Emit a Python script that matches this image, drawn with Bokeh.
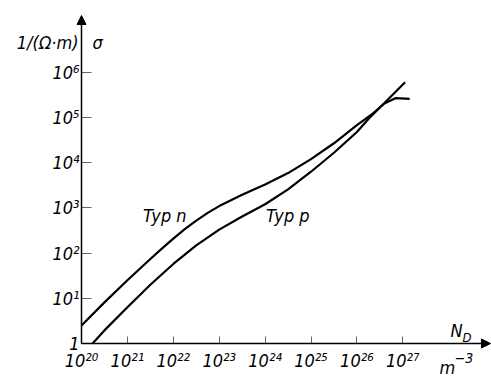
from bokeh.plotting import figure
from bokeh.models import Range1d, FixedTicker, Arrow, NormalHead, Label, LinearAxis
from bokeh.embed import file_html
from bokeh.resources import INLINE

# Data as decimal exponents (log10 of N_D in m^-3, log10 of sigma in 1/(Ohm*m))
n_logN = [20.0, 20.5, 21.0, 21.5, 21.75, 22.0, 22.25, 22.5, 22.75, 23.0, 23.5, 24.0, 24.5, 25.0, 25.5, 26.0, 26.3, 26.6, 26.85, 27.15]
n_logS = [0.40, 0.91, 1.40, 1.87, 2.10, 2.32, 2.53, 2.72, 2.89, 3.04, 3.29, 3.52, 3.77, 4.08, 4.43, 4.83, 5.05, 5.31, 5.43, 5.41]

p_logN = [20.24, 20.5, 21.0, 21.5, 22.0, 22.5, 23.0, 23.5, 24.0, 24.5, 25.0, 25.5, 26.0, 26.3, 26.6, 27.05]
p_logS = [0.00, 0.29, 0.80, 1.30, 1.76, 2.17, 2.52, 2.81, 3.08, 3.41, 3.80, 4.22, 4.68, 5.02, 5.32, 5.78]

x_ticks = [20, 21, 22, 23, 24, 25, 26, 27]
x_tick_labels = ["10²⁰", "10²¹", "10²²", "10²³", "10²⁴", "10²⁵", "10²⁶", "10²⁷"]
y_ticks = [0, 1, 2, 3, 4, 5, 6]
y_tick_labels = ["1", "10¹", "10²", "10³", "10⁴", "10⁵", "10⁶"]

FONT = "DejaVu Sans Condensed, DejaVu Sans"
W, H = 491, 377
PX_X, PX_Y = 45.9, 45.2          # pixels per decade
OX, OY = 81, 343                 # origin in canvas pixels (from top-left)
XS = 20 - OX / PX_X
XE = XS + W / PX_X
YS = -(H - OY) / PX_Y
YE = OY / PX_Y
X_ARROW = XS + 490 / PX_X
Y_ARROW = (OY - 15) / PX_Y

p = figure(width=W, height=H, x_range=Range1d(XS, XE), y_range=Range1d(YS, YE),
           output_backend="svg", toolbar_location=None,
           x_axis_location=None, y_axis_location=None,
           min_border=0)
p.grid.visible = False
p.outline_line_color = None
p.background_fill_color = "white"
p.border_fill_color = "white"

xax = LinearAxis(fixed_location=0)
yax = LinearAxis(fixed_location=20)
p.add_layout(xax, "below")
p.add_layout(yax, "left")

for ax, ticks, labels in ((xax, x_ticks, x_tick_labels), (yax, y_ticks, y_tick_labels)):
    ax.ticker = FixedTicker(ticks=ticks)
    ax.major_label_overrides = {t: l for t, l in zip(ticks, labels)}
    ax.axis_line_color = None
    ax.major_tick_out = 0
    ax.minor_tick_line_color = None
    ax.major_tick_line_color = "#666666"
    ax.major_label_text_font = FONT
    ax.major_label_text_font_style = "italic"
    ax.major_label_text_font_size = "18px"
    ax.major_label_text_color = "black"

xax.major_tick_in = 7
yax.major_tick_in = 10
xax.major_label_standoff = 6
yax.major_label_standoff = 2

p.line(n_logN, n_logS, line_color="black", line_width=2.2)
p.line(p_logN, p_logS, line_color="black", line_width=2.2)

p.add_layout(Arrow(x_start=20, y_start=0, x_end=X_ARROW, y_end=0, line_width=1.5, line_color="black",
                   end=NormalHead(size=9, fill_color="black", line_color="black")))
p.add_layout(Arrow(x_start=20, y_start=0, x_end=20, y_end=Y_ARROW, line_width=1.5, line_color="black",
                   end=NormalHead(size=9, fill_color="black", line_color="black")))

def lab(x, y, text, size="18px", align="left", xo=0, yo=0):
    p.add_layout(Label(x=x, y=y, text=text, x_offset=xo, y_offset=yo, text_align=align,
                       text_baseline="middle", text_font=FONT, text_font_style="italic",
                       text_font_size=size, text_color="black"))

lab(20, 6.66, "1/(Ω·m)", align="right", xo=-3)
lab(20, 6.66, "σ", xo=11)
lab(21.34, 2.84, "Typ n")
lab(24.02, 2.84, "Typ p")
lab(28.04, 0.29, "N")
lab(28.30, 0.13, "D", size="13px")
lab(27.80, -0.53, "m")
lab(28.13, -0.31, "−3", size="14px")

open("out.html", "w").write(file_html(p, INLINE))
